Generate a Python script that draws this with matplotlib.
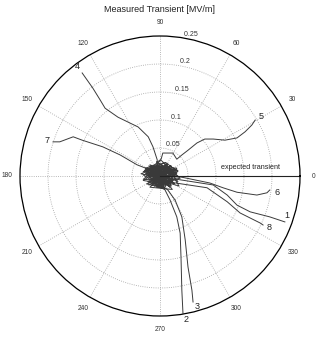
import numpy as np
import matplotlib
matplotlib.use('Agg')
import matplotlib.pyplot as plt

plt.rcParams['font.family'] = ['Liberation Sans', 'DejaVu Sans']

# Messwerte: Feldkomponenten (x, y) in MV/m, je Transient
tr1_x = [0.000, -0.014, 0.010, -0.026, 0.018, -0.006, 0.028, -0.018, 0.012, -0.030, 0.006, 0.032, -0.010, 0.015,
         -0.020, 0.024, -0.004, 0.020,
         0.018, 0.095, 0.120, 0.1375, 0.161, 0.196, 0.223]
tr1_y = [0.000, 0.010, -0.012, 0.004, 0.016, -0.020, 0.002, 0.020, -0.008, -0.006, 0.024, -0.010, 0.008, -0.016,
         0.014, 0.010, -0.002, -0.010,
         -0.004, -0.016, -0.034, -0.052, -0.064, -0.073, -0.082]

tr2_x = [0.002, 0.018, -0.012, 0.026, -0.022, 0.008, -0.006, 0.034, -0.016, 0.012, 0.000, -0.026, 0.018, 0.004,
         -0.010, 0.024, -0.002, 0.006,
         0.009, 0.018, 0.030, 0.036, 0.0375, 0.039, 0.041]
tr2_y = [0.004, -0.006, 0.018, 0.012, -0.010, -0.024, 0.026, -0.002, 0.002, 0.020, -0.016, 0.012, -0.020, -0.010,
         0.006, -0.014, 0.010, -0.018,
         -0.025, -0.043, -0.073, -0.102, -0.145, -0.204, -0.245]

tr3_x = [-0.003, 0.014, -0.020, 0.008, 0.030, -0.010, 0.022, -0.028, 0.002, 0.036, -0.012, 0.010, 0.020, -0.016,
         0.004, 0.026, -0.006, 0.010,
         0.014, 0.027, 0.039, 0.045, 0.050, 0.057, 0.059]
tr3_y = [0.002, 0.012, -0.002, -0.018, 0.006, 0.016, -0.012, 0.008, 0.028, -0.004, -0.014, 0.006, -0.018, -0.008,
         0.014, 0.010, -0.020, -0.022,
         -0.025, -0.043, -0.073, -0.114, -0.1625, -0.204, -0.225]

tr4_x = [0.004, -0.018, 0.012, -0.030, 0.020, -0.008, 0.032, -0.020, 0.010, -0.034, 0.002, 0.022, -0.012, 0.016,
         -0.024, 0.006, -0.010, -0.004,
         -0.005, -0.005, -0.0125, -0.021, -0.039, -0.075, -0.098, -0.107, -0.120, -0.139]
tr4_y = [-0.002, 0.008, 0.020, -0.008, -0.016, 0.012, 0.010, -0.016, -0.006, 0.004, 0.018, 0.002, -0.010, 0.014,
         0.012, -0.022, 0.004, 0.010,
         0.016, 0.029, 0.052, 0.070, 0.0875, 0.105, 0.121, 0.136, 0.157, 0.184]

tr5_x = [0.001, -0.012, 0.022, -0.004, 0.014, -0.024, 0.008, 0.026, -0.014, 0.016, -0.020, 0.030, -0.006,
         0.002, 0.005, 0.023, 0.030,
         0.039, 0.050, 0.066, 0.080, 0.095, 0.116, 0.1375, 0.152, 0.164, 0.170]
tr5_y = [-0.003, 0.014, -0.008, -0.020, 0.022, 0.000, 0.010, 0.012, -0.012, -0.002, 0.018, 0.004, 0.024,
         0.030, 0.041, 0.041, 0.030,
         0.0375, 0.046, 0.059, 0.066, 0.066, 0.064, 0.068, 0.079, 0.091, 0.100]

tr6_x = [-0.002, 0.016, -0.022, 0.010, 0.032, -0.014, 0.004, -0.030, 0.020, 0.000, 0.026, -0.008, 0.014,
         -0.018, 0.008, 0.030, -0.004, 0.012,
         0.018, 0.048, 0.089, 0.1125, 0.1375, 0.173, 0.191, 0.196]
tr6_y = [0.004, -0.010, 0.012, 0.024, 0.008, -0.012, -0.020, 0.002, 0.018, 0.010, -0.014, 0.020, 0.004,
         -0.006, -0.010, 0.014, 0.016, -0.004,
         0.002, -0.004, -0.0125, -0.021, -0.029, -0.034, -0.030, -0.025]

tr7_x = [0.003, -0.020, 0.014, 0.000, -0.026, 0.024, -0.010, 0.012, -0.016, 0.030, -0.004, -0.024, 0.008,
         0.020, -0.030, 0.004, -0.012,
         -0.018, -0.041, -0.071, -0.102, -0.139, -0.155, -0.179, -0.191]
tr7_y = [0.000, -0.012, 0.010, 0.022, 0.014, -0.008, -0.018, 0.018, 0.004, 0.012, -0.010, 0.002, -0.022,
         0.004, 0.008, 0.012, 0.016,
         0.011, 0.020, 0.0375, 0.052, 0.064, 0.070, 0.061, 0.061]

tr8_x = [0.000, 0.020, -0.016, 0.008, -0.024, 0.026, -0.002, 0.014, -0.028, 0.010, 0.034, -0.012, 0.012,
         -0.006, 0.022, -0.018, 0.006, 0.014,
         0.018, 0.084, 0.120, 0.143, 0.179, 0.184]
tr8_y = [-0.004, 0.014, 0.006, -0.022, -0.014, 0.002, 0.018, -0.012, 0.010, 0.024, -0.018, -0.004, -0.010,
         0.012, -0.024, -0.020, 0.002, -0.016,
         -0.011, -0.021, -0.046, -0.066, -0.084, -0.0875]

expected_theta = [0.0, 0.0]
expected_r = [0.0, 0.25]

r_ticks = [0.05, 0.1, 0.15, 0.2, 0.25]
r_labels = ['0.05', '0.1', '0.15', '0.2', '0.25']
theta_ticks = [0, 30, 60, 90, 120, 150, 180, 210, 240, 270, 300, 330]

transients = [(tr1_x, tr1_y), (tr2_x, tr2_y), (tr3_x, tr3_y), (tr4_x, tr4_y),
              (tr5_x, tr5_y), (tr6_x, tr6_y), (tr7_x, tr7_y), (tr8_x, tr8_y)]
# Versatz der Nummern (Punkte) relativ zum Linienende
label_offsets = [(1.5, 4.5), (2, -4.5), (3, -3.5), (-3.5, 4.5),
                 (4.5, 2.5), (5, -1.5), (-4, 1), (4.5, -1.5)]

fig = plt.figure(figsize=(3.18, 3.48), dpi=100)
ax = fig.add_axes([20 / 318, 32 / 348, 280 / 318, 280 / 348], projection='polar')
rmax = r_ticks[-1]
ax.set_ylim(0, rmax)
ax.set_xticks([])
ax.set_yticks([])
ax.grid(False)
ax.spines['polar'].set_linewidth(0.9)
ax.spines['polar'].set_color('black')

# Gitter
circ = np.linspace(0, 2 * np.pi, 361)
for r in r_ticks[:-1]:
    ax.plot(circ, np.full_like(circ, r), ':', color='#a0a0a0', lw=0.6)
for t in theta_ticks:
    ax.plot([np.deg2rad(t)] * 2, [0, rmax], ':', color='#a0a0a0', lw=0.6)

for t in theta_ticks:
    ax.text(np.deg2rad(t), rmax * 1.095, str(t), ha='center', va='center',
            fontsize=4.8, color='#333333', clip_on=False)
for r, lbl in zip(r_ticks, r_labels):
    ax.text(np.deg2rad(81), r, ' ' + lbl, ha='left', va='bottom',
            fontsize=5, color='#333333', clip_on=False)

# Transienten
for i, (x, y) in enumerate(transients):
    x = np.array(x)
    y = np.array(y)
    th = np.arctan2(y, x)
    rr = np.hypot(x, y)
    ax.plot(th, rr, color='#3a3a3a', lw=0.7)
    ax.annotate(str(i + 1), (th[-1], rr[-1]), xytext=label_offsets[i],
                textcoords='offset points', ha='center', va='center',
                fontsize=6.5, color='#222222', annotation_clip=False)

ax.plot(expected_theta, expected_r, color='#222222', lw=0.8)
ax.text(np.deg2rad(5.2), 0.162, 'expected transient', ha='center', va='center',
        fontsize=5.2, color='#222222')

fig.text(160 / 318, 1 - 10 / 348, 'Measured Transient [MV/m]', ha='center',
         va='center', fontsize=6.5, color='#222222')

fig.savefig('out.png', dpi=100)
